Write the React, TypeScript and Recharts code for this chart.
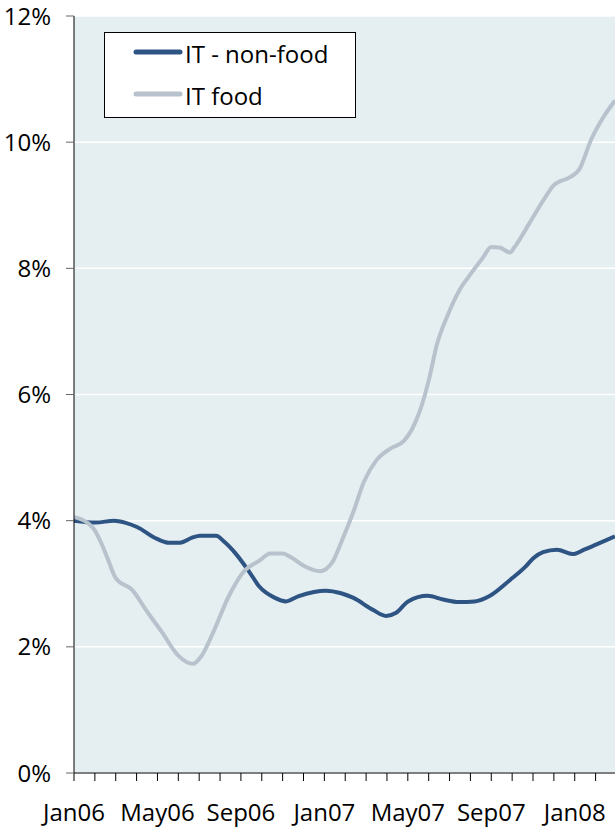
import { LineChart, Line, XAxis, YAxis, CartesianGrid, Legend } from 'recharts'

// months since Jan06 (0 = Jan06, 4 = May06, ...)
const nonFoodMonths = [0, 1.05, 1.92, 2.44, 3.02, 3.98, 4.55, 5.08, 5.66, 6.04, 6.81, 7.19, 7.72, 8.44, 8.87, 9.61, 10.16, 10.74, 11.5, 12.06, 12.8, 13.37, 14.31, 14.96, 15.44, 16.01, 16.95, 17.69, 18.46, 19.2, 19.94, 20.9, 21.64, 22.0, 22.48, 23.15, 23.9, 24.45, 25.02, 25.93]
const nonFoodValues = [4.0, 3.97, 4.0, 3.97, 3.9, 3.71, 3.65, 3.65, 3.73, 3.76, 3.76, 3.67, 3.49, 3.17, 2.96, 2.78, 2.72, 2.8, 2.87, 2.89, 2.85, 2.78, 2.59, 2.49, 2.54, 2.72, 2.81, 2.75, 2.71, 2.72, 2.81, 3.06, 3.27, 3.4, 3.5, 3.54, 3.47, 3.54, 3.62, 3.75]

const foodMonths = [0, 0.9, 1.3, 1.6, 2.0, 2.8, 3.5, 4.2, 5.0, 5.7, 6.1, 6.7, 7.4, 8.1, 8.9, 9.4, 10.0, 10.4, 11.1, 11.8, 12.4, 12.8, 13.4, 13.9, 14.5, 15.2, 15.8, 16.2, 16.6, 17.0, 17.4, 17.9, 18.5, 18.9, 19.6, 20.0, 20.4, 20.9, 21.1, 21.8, 22.5, 23.0, 23.8, 24.2, 24.8, 25.4, 25.93]
const foodValues = [4.06, 3.89, 3.65, 3.41, 3.09, 2.9, 2.56, 2.24, 1.86, 1.73, 1.85, 2.25, 2.79, 3.18, 3.37, 3.48, 3.48, 3.42, 3.27, 3.2, 3.35, 3.65, 4.15, 4.62, 4.96, 5.15, 5.26, 5.45, 5.76, 6.22, 6.8, 7.25, 7.67, 7.86, 8.17, 8.34, 8.33, 8.25, 8.33, 8.7, 9.08, 9.32, 9.45, 9.56, 10.05, 10.41, 10.66]

const monthTicks = [0, 1, 2, 3, 4, 5, 6, 7, 8, 9, 10, 11, 12, 13, 14, 15, 16, 17, 18, 19, 20, 21, 22, 23, 24, 25]
const monthLabels = ['Jan06', 'May06', 'Sep06', 'Jan07', 'May07', 'Sep07', 'Jan08']
const yTicks = [0, 2, 4, 6, 8, 10, 12]

const nonFoodData = nonFoodMonths.map((m, i) => ({ month: m, value: nonFoodValues[i] }))
const foodData = foodMonths.map((m, i) => ({ month: m, value: foodValues[i] }))

const FONT = "'Open Sans', sans-serif"

const LegendBox = ({ payload }: any) => (
  <svg width={252} height={86} style={{ display: 'block' }}>
    <rect x={0.5} y={0.5} width={251} height={85} fill="#fff" stroke="#000" />
    {(payload || []).map((entry: any, i: number) => (
      <g key={entry.value}>
        <line
          x1={32}
          x2={76}
          y1={20 + i * 42}
          y2={20 + i * 42}
          stroke={entry.color}
          strokeWidth={5}
          strokeLinecap="round"
        />
        <text x={81} y={31 + i * 42} fontSize={24} fontFamily={FONT} fill="#000">
          {entry.value}
        </text>
      </g>
    ))}
  </svg>
)

const App = () => {
  return (
    <div style={{ position: 'absolute', left: 0, top: 0 }}>
      <LineChart width={615} height={831} margin={{ top: 16, right: 0, bottom: 0, left: 0 }}>
        <CartesianGrid fill="#E5EEF0" stroke="#fff" strokeWidth={1.5} vertical={false} />
        <XAxis
          type="number"
          dataKey="month"
          domain={[0, 25.93]}
          ticks={monthTicks}
          interval={0}
          height={58}
          tickSize={8}
          tickMargin={23}
          axisLine={{ stroke: '#000' }}
          tickLine={{ stroke: '#000' }}
          tick={{ fill: '#000', fontSize: 24, fontFamily: FONT }}
          tickFormatter={(v: number) => (v % 4 === 0 ? monthLabels[v / 4] : '')}
        />
        <YAxis
          type="number"
          domain={[0, 12]}
          ticks={yTicks}
          width={74}
          tickSize={8}
          tickMargin={15}
          axisLine={{ stroke: '#000' }}
          tickLine={{ stroke: '#666' }}
          tick={{ fill: '#000', fontSize: 24, fontFamily: FONT }}
          tickFormatter={(v: number) => `${v}%`}
        />
        <Legend
          layout="horizontal"
          verticalAlign="middle"
          align="center"
          content={(props: any) => <LegendBox payload={props.payload} />}
          wrapperStyle={{ position: 'absolute', left: 104, top: 32, width: 252, height: 86 }}
        />
        <Line
          data={nonFoodData}
          dataKey="value"
          name="IT - non-food"
          type="monotone"
          stroke="#2E5484"
          strokeWidth={4}
          dot={false}
          activeDot={false}
          isAnimationActive={false}
        />
        <Line
          data={foodData}
          dataKey="value"
          name="IT food"
          type="monotone"
          stroke="#B7C2CD"
          strokeWidth={4}
          dot={false}
          activeDot={false}
          isAnimationActive={false}
        />
      </LineChart>
    </div>
  )
}

export default App
